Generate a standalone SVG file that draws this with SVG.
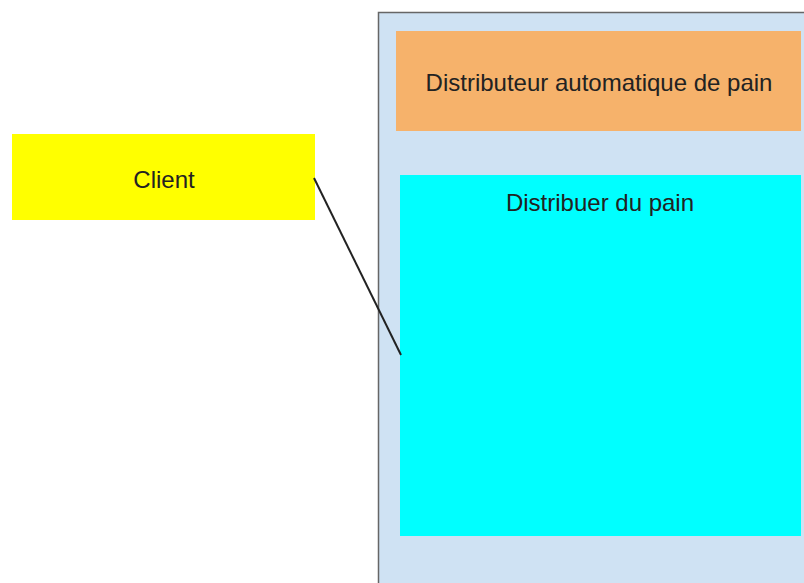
<svg xmlns="http://www.w3.org/2000/svg" width="804" height="583" viewBox="0 0 804 583">
<style>
text{font-family:"Liberation Sans",Arial,sans-serif;font-size:24px;fill:#222;text-anchor:middle;dominant-baseline:central}
</style>
<rect width="804" height="583" fill="#fff"/>
<g id="container"><rect x="378.5" y="12.5" width="460" height="600" fill="#cfe2f3" stroke="#666" stroke-width="1.5"/></g>
<g id="distributeur"><rect x="396" y="31" width="405" height="100" fill="#f6b26b"/><text x="599" y="82">Distributeur automatique de pain</text></g>
<g id="distribuer"><rect x="400" y="175" width="401" height="361" fill="#00ffff"/><text x="600" y="202">Distribuer du pain</text></g>
<g id="client"><rect x="12" y="134" width="303" height="86" fill="#ffff00"/><text x="164" y="179">Client</text></g>
<g id="connectors"><line x1="314" y1="178" x2="401" y2="355" stroke="#222" stroke-width="2"/></g>
</svg>
